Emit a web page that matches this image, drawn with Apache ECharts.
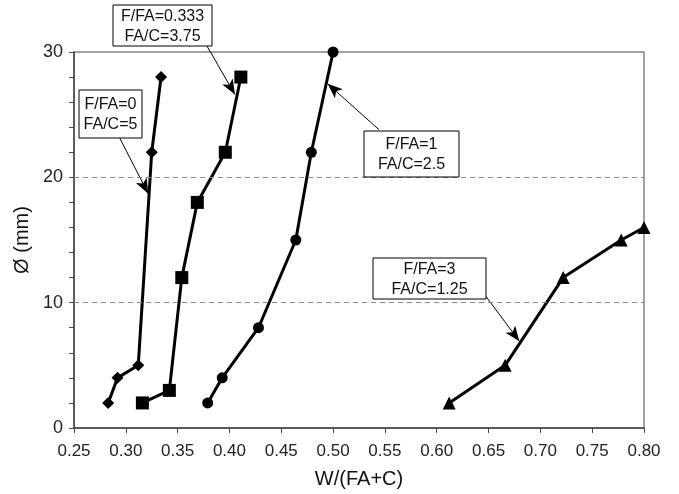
<!DOCTYPE html>
<html><head><meta charset="utf-8">
<script src="https://cdn.jsdelivr.net/npm/echarts@6/dist/echarts.min.js"></script>
<style>html,body{margin:0;padding:0;background:#fff}#c{width:679px;height:494px}</style>
</head><body><div id="c"></div>
<script>
const xTicks = [0.25,0.30,0.35,0.40,0.45,0.50,0.55,0.60,0.65,0.70,0.75,0.80];
const yTicks = [0,10,20,30];
const seriesNames = ['F/FA=0','F/FA=0.333','F/FA=1','F/FA=3'];
const s0x = [0.283,0.292,0.312,0.325,0.334];
const s0y = [2,4,5,22,28];
const s1x = [0.316,0.342,0.354,0.369,0.396,0.411];
const s1y = [2,3,12,18,22,28];
const s2x = [0.379,0.393,0.428,0.464,0.479,0.500];
const s2y = [2,4,8,15,22,30];
const s3x = [0.612,0.666,0.722,0.778,0.800];
const s3y = [2,5,12,15,16];
const labelLines = [['F/FA=0','FA/C=5'],['F/FA=0.333','FA/C=3.75'],['F/FA=1','FA/C=2.5'],['F/FA=3','FA/C=1.25']];
// arrow start / tip in data units
const arrowFrom = [[0.2937,23.2],[0.3817,30],[0.5443,23.8],[0.6475,10.5]];
const arrowTo = [[0.3216,18.7],[0.4053,26.6],[0.4948,27.46],[0.6797,6.93]];

const zip=(a,b)=>a.map((v,i)=>[v,b[i]]);
const chart = echarts.init(document.getElementById('c'));
const FONT = 'Liberation Sans, Arial, sans-serif';
const symbols = ['diamond','rect','circle','triangle'];
const symSizes = [12,13,11,13];
const datas = [zip(s0x,s0y),zip(s1x,s1y),zip(s2x,s2y),zip(s3x,s3y)];
const series = datas.map((d,i)=>({
  name: seriesNames[i], type:'line', data:d, symbol:symbols[i], symbolSize:symSizes[i],
  showSymbol:true, clip:false, z:3,
  lineStyle:{color:'#000',width:3}, itemStyle:{color:'#000'},
  markLine:{silent:true, symbol:['none','arrow'], symbolSize:[9,15],
    lineStyle:{color:'#000',width:1,type:'solid'}, label:{show:false},
    data:[[{coord:arrowFrom[i]},{coord:arrowTo[i]}]], animation:false}
}));
// dashed grid lines at y tick values
series.push({type:'line', data:[], markLine:{silent:true, symbol:'none', label:{show:false},
  lineStyle:{color:'#888',type:[5,4],width:1},
  data: yTicks.filter(v=>v>0 && v<30).map(v=>({yAxis:v})), animation:false}});

const boxes = [
  {x:79,y:90,w:63,h:48},
  {x:113,y:5,w:99,h:41},
  {x:364,y:131,w:95,h:46},
  {x:373,y:258,w:113,h:41}
];
const graphic = [];
boxes.forEach((b,i)=>{
  graphic.push({type:'rect', shape:{x:b.x,y:b.y,width:b.w,height:b.h}, style:{fill:'#fff',stroke:'#000',lineWidth:1}, z:10});
  graphic.push({type:'text', x:b.x+b.w/2, y:b.y+b.h/2+1, style:{text:labelLines[i].join('\n'), font:'16px '+FONT, fill:'#111', align:'center', verticalAlign:'middle', lineHeight:20}, z:11});
});
// connector segment from box 2 down to the plot's top edge
graphic.push({type:'line', shape:{x1:207,y1:46,x2:210.5,y2:52.5}, style:{stroke:'#000',lineWidth:1}, z:9});

chart.setOption({
  animation:false,
  textStyle:{fontFamily:FONT},
  grid:{left:74,right:35,top:52,bottom:61,show:true,borderColor:'#444',borderWidth:1},
  xAxis:{type:'value',min:xTicks[0],max:xTicks[xTicks.length-1],interval:0.05,
    name:'W/(FA+C)',nameLocation:'middle',nameGap:41,nameTextStyle:{fontSize:20,color:'#111',fontFamily:FONT},
    axisLine:{lineStyle:{color:'#444',width:1.5}},axisTick:{show:true,length:5,lineStyle:{color:'#444'}},
    axisLabel:{fontSize:17,color:'#222',margin:15,formatter:v=>v.toFixed(2)},splitLine:{show:false}},
  yAxis:{type:'value',min:0,max:30,interval:10,
    name:'Ø (mm)',nameLocation:'middle',nameGap:38,nameTextStyle:{fontSize:20,color:'#111',fontFamily:FONT},
    axisLine:{show:true,lineStyle:{color:'#444',width:1.5}},axisTick:{show:true,length:5,lineStyle:{color:'#444'}},
    minorTick:{show:true,splitNumber:5,length:5,lineStyle:{color:'#444'}},
    axisLabel:{fontSize:18,color:'#222',margin:11},splitLine:{show:false}},
  graphic:graphic,
  series:series
});
</script></body></html>
